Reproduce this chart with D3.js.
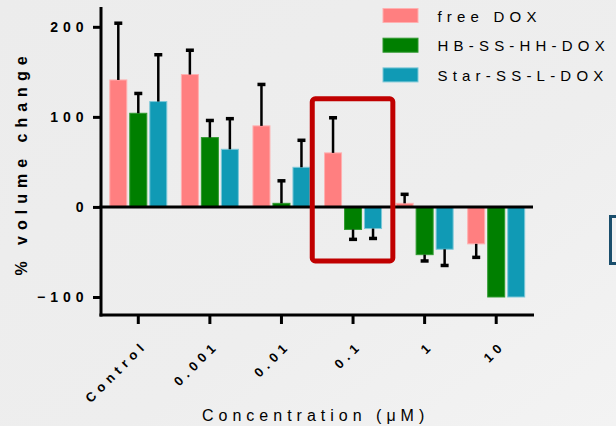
<!DOCTYPE html>
<html lang="en">
<head>
    <meta charset="UTF-8">
    <title>Volume change</title>
    <script src="https://d3js.org/d3.v7.min.js"></script>
    <style>
        body { margin: 0; background: #eeeeee; }
        svg { display: block; }
        text { font-family: "Liberation Sans", Arial, sans-serif; fill: #000; }
        .tick text { font-weight: bold; }
    </style>
</head>
<body>
<script>
    var width = 616, height = 426;

    var categories = ["Control", "0.001", "0.01", "0.1", "1", "10"];
    var series = ["free DOX", "HB-SS-HH-DOX", "Star-SS-L-DOX"];
    var colors = ["#ff7f80", "#007f00", "#109ab5"];
    var edges = ["#ffb0b0", "#2f9a2f", "#7cc8d8"];

    // mean % volume change per series, one value per concentration
    var freeDox = [141, 147, 90, 60, 4, -41];
    var hbDox = [104, 77, 4, -25, -53, -100];
    var starDox = [117, 64, 44, -24, -47, -100];
    // error bar lengths (drawn away from zero)
    var freeErr = [63, 27, 46, 39, 10, 15];
    var hbErr = [22, 19, 25, 11, 7, 0];
    var starErr = [52, 34, 30, 11, 18, 0];

    var yTicks = [-100, 0, 100, 200];

    var values = [freeDox, hbDox, starDox];
    var errors = [freeErr, hbErr, starErr];

    var data = [];
    series.forEach(function (s, i) {
        categories.forEach(function (c, j) {
            data.push({ series: s, idx: i, cat: c, value: values[i][j], err: errors[i][j] });
        });
    });

    var svg = d3.select("body").append("svg")
        .attr("width", width).attr("height", height);

    var defs = svg.append("defs");
    var bg = defs.append("linearGradient").attr("id", "bg")
        .attr("x1", 0).attr("y1", 0).attr("x2", 1).attr("y2", 1);
    bg.append("stop").attr("offset", "0%").attr("stop-color", "#ececec");
    bg.append("stop").attr("offset", "60%").attr("stop-color", "#eeeeee");
    bg.append("stop").attr("offset", "100%").attr("stop-color", "#f3f3f3");
    svg.append("rect").attr("width", width).attr("height", height).attr("fill", "url(#bg)");

    var x = d3.scaleBand().domain(categories).range([102.5, 532]);
    var xs = d3.scaleBand().domain(series).range([-28.5, 28.5]).paddingInner(0.15);
    var y = d3.scaleLinear().domain([-120, 222]).range([315, 7]);

    // axes
    var yAxis = d3.axisLeft(y).tickValues(yTicks).tickSize(8).tickPadding(4.5).tickSizeOuter(0);
    var gy = svg.append("g").attr("transform", "translate(101,0)").call(yAxis);
    gy.select(".domain").remove();
    gy.selectAll(".tick line").attr("stroke", "#000").attr("stroke-width", 3);
    gy.selectAll(".tick text").style("font-size", "14px").style("letter-spacing", "5px");

    var xAxis = d3.axisBottom(x).tickSize(9).tickSizeOuter(0);
    var gx = svg.append("g").attr("transform", "translate(0,315)").call(xAxis);
    gx.select(".domain").remove();
    gx.selectAll(".tick line").attr("stroke", "#000").attr("stroke-width", 3);
    gx.selectAll(".tick text")
        .style("font-size", "13px").style("letter-spacing", "5px")
        .attr("text-anchor", "end")
        .attr("y", 0).attr("dy", 0)
        .attr("transform", "translate(10,31) rotate(-45)");

    // axis lines
    svg.append("line").attr("x1", 101).attr("x2", 101).attr("y1", 7).attr("y2", 316.5)
        .attr("stroke", "#000").attr("stroke-width", 3);
    svg.append("line").attr("x1", 99.5).attr("x2", 534).attr("y1", 315).attr("y2", 315)
        .attr("stroke", "#000").attr("stroke-width", 3);

    // bars
    var bars = svg.append("g").selectAll("g.bar").data(data).enter()
        .append("g").attr("class", "bar")
        .attr("transform", function (d) {
            return "translate(" + (x(d.cat) + x.bandwidth() / 2) + ",0)";
        });

    bars.append("rect")
        .attr("x", function (d) { return xs(d.series); })
        .attr("width", xs.bandwidth())
        .attr("y", function (d) { return y(Math.max(0, d.value)); })
        .attr("height", function (d) { return Math.abs(y(d.value) - y(0)); })
        .attr("fill", function (d) { return colors[d.idx]; })
        .attr("stroke", function (d) { return edges[d.idx]; })
        .attr("stroke-width", 1);

    // error bars
    var eb = bars.filter(function (d) { return d.err > 0; });
    eb.append("line")
        .attr("x1", function (d) { return xs(d.series) + xs.bandwidth() / 2; })
        .attr("x2", function (d) { return xs(d.series) + xs.bandwidth() / 2; })
        .attr("y1", function (d) { return y(d.value); })
        .attr("y2", function (d) { return y(d.value + Math.sign(d.value) * d.err); })
        .attr("stroke", "#000").attr("stroke-width", 2.5);
    eb.append("line")
        .attr("x1", function (d) { return xs(d.series) + xs.bandwidth() / 2 - 4; })
        .attr("x2", function (d) { return xs(d.series) + xs.bandwidth() / 2 + 4; })
        .attr("y1", function (d) { return y(d.value + Math.sign(d.value) * d.err); })
        .attr("y2", function (d) { return y(d.value + Math.sign(d.value) * d.err); })
        .attr("stroke", "#000").attr("stroke-width", 3.5);

    // zero line
    svg.append("line").attr("x1", 99.5).attr("x2", 533).attr("y1", y(0)).attr("y2", y(0))
        .attr("stroke", "#000").attr("stroke-width", 3);

    // highlight box around 0.1
    svg.append("rect")
        .attr("x", x("0.1") - 5).attr("y", y(120))
        .attr("width", x.bandwidth() + 9).attr("height", y(-60) - y(120))
        .attr("rx", 3)
        .attr("fill", "none").attr("stroke", "#c00000").attr("stroke-width", 5);

    // clipped box at right edge
    svg.append("rect").attr("x", 610.5).attr("y", 216.5).attr("width", 20).attr("height", 47)
        .attr("fill", "#f0f0f0").attr("stroke", "#1a4e6c").attr("stroke-width", 3);

    // legend
    var legend = svg.append("g").selectAll("g").data(series).enter()
        .append("g").attr("transform", function (d, i) { return "translate(383," + (8.5 + i * 29.7) + ")"; });
    legend.append("rect").attr("width", 35).attr("height", 14)
        .attr("fill", function (d, i) { return colors[i]; })
        .attr("stroke", function (d, i) { return edges[i]; }).attr("stroke-width", 1);
    legend.append("text").attr("x", 54.5).attr("y", 13)
        .style("font-size", "15px").style("letter-spacing", "5.2px")
        .text(function (d) { return d; });

    // titles
    svg.append("text")
        .attr("transform", "translate(27,163) rotate(-90)")
        .attr("text-anchor", "middle")
        .style("font-size", "16px").style("font-weight", "bold").style("letter-spacing", "6px")
        .text("% volume change");

    svg.append("text").attr("x", 202).attr("y", 421)
        .style("font-size", "16px").style("letter-spacing", "5px")
        .text("Concentration (\u03bcM)");
</script>
</body>
</html>
